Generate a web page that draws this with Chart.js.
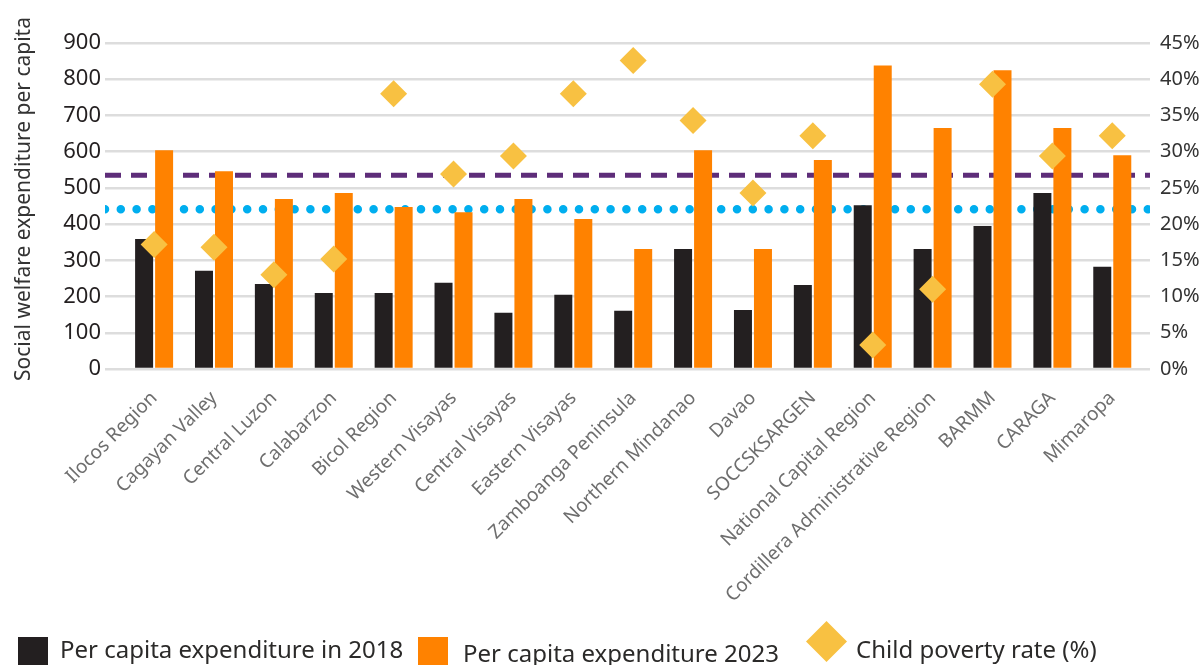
<!DOCTYPE html>
<html lang="en">
<head>
<meta charset="utf-8">
<title>Social welfare expenditure per capita and child poverty by region</title>
<script src="https://cdn.jsdelivr.net/npm/chart.js@4.4.1/dist/chart.umd.min.js"></script>
<style>
  html, body { margin: 0; padding: 0; background: #ffffff; }
  #wrap { position: relative; width: 1204px; height: 665px; overflow: hidden; font-family: "Noto Sans", "Open Sans", sans-serif; }
  #c { position: absolute; left: 0; top: 0; }
  .key { position: absolute; }
  .swatch { width: 30px; height: 30px; }
  .diamond { width: 29px; height: 29px; transform: rotate(45deg); }
  .label { font-size: 24px; line-height: 24px; color: #2b2a29; white-space: nowrap; }
</style>
</head>
<body>
<div id="wrap">
  <canvas id="c" width="1204" height="665"></canvas>
  <div class="key swatch" style="left:18px;top:637px;background:#231f20"></div>
  <div class="key label" style="left:60px;top:637px">Per capita expenditure in 2018</div>
  <div class="key swatch" style="left:418px;top:637px;background:#ff8200"></div>
  <div class="key label" style="left:463px;top:641px">Per capita expenditure 2023</div>
  <div class="key diamond" style="left:812px;top:627px;background:#f8c142"></div>
  <div class="key label" style="left:856px;top:637px">Child poverty rate (%)</div>
</div>
<script>
// Regions in display order
const regions = [
  'Ilocos Region', 'Cagayan Valley', 'Central Luzon', 'Calabarzon', 'Bicol Region',
  'Western Visayas', 'Central Visayas', 'Eastern Visayas', 'Zamboanga Peninsula',
  'Northern Mindanao', 'Davao', 'SOCCSKSARGEN', 'National Capital Region',
  'Cordillera Administrative Region', 'BARMM', 'CARAGA', 'Mimaropa'
];

// Social welfare expenditure per capita
const spend2018 = [359, 271, 235, 210, 210, 238, 155, 205, 161, 331, 163, 232, 452, 331, 395, 486, 282];
const spend2023 = [604, 546, 469, 486, 447, 433, 469, 414, 331, 604, 331, 577, 838, 665, 825, 665, 590];

// Child poverty rate, percent
const childPoverty = [17.2, 16.8, 13.0, 15.2, 38.0, 26.9, 29.4, 38.0, 42.6, 34.3, 24.3, 32.2, 3.3, 11.0, 39.3, 29.4, 32.2];

// Horizontal reference levels (left axis units)
const dashedLevel = 535;
const dottedLevel = 441;

// Axis ticks and title
const spendTicks = [0, 100, 200, 300, 400, 500, 600, 700, 800, 900];
const rateTicks = [0, 5, 10, 15, 20, 25, 30, 35, 40, 45];
const leftTitle = 'Social welfare expenditure per capita';

// Horizontal extent of the plot, in category units
const xFrom = -0.82;
const xTo = 16.63;

const asPoints = values => values.map((v, i) => ({ x: i, y: v }));
const levelLine = v => [{ x: xFrom, y: v }, { x: xTo, y: v }];

const FONT = '"Noto Sans", "Open Sans", sans-serif';

// Left axis title drawn at full width (the built-in title is squeezed to the axis height)
const leftTitlePlugin = {
  id: 'leftTitle',
  afterDraw(chart) {
    const { ctx, chartArea } = chart;
    ctx.save();
    ctx.translate(24, (chartArea.top + chartArea.bottom) / 2 - 7);
    ctx.rotate(-Math.PI / 2);
    ctx.font = '21px ' + FONT;
    ctx.fillStyle = '#333333';
    ctx.textAlign = 'center';
    ctx.textBaseline = 'middle';
    ctx.fillText(leftTitle, 0, 0);
    ctx.restore();
  }
};

new Chart(document.getElementById('c'), {
  type: 'bar',
  plugins: [leftTitlePlugin],
  data: {
    datasets: [
      {
        type: 'line',
        label: 'Child poverty rate (%)',
        data: asPoints(childPoverty),
        yAxisID: 'y1',
        showLine: false,
        pointStyle: 'rectRot',
        pointRadius: 13.5,
        pointHoverRadius: 13.5,
        pointBackgroundColor: '#f8c142',
        pointBorderWidth: 0,
        backgroundColor: '#f8c142',
        borderColor: '#f8c142',
        order: 0
      },
      {
        label: 'Per capita expenditure in 2018',
        data: asPoints(spend2018),
        yAxisID: 'y',
        backgroundColor: '#231f20',
        borderWidth: 0,
        categoryPercentage: 0.668,
        barPercentage: 0.9,
        order: 1
      },
      {
        label: 'Per capita expenditure 2023',
        data: asPoints(spend2023),
        yAxisID: 'y',
        backgroundColor: '#ff8200',
        borderWidth: 0,
        categoryPercentage: 0.668,
        barPercentage: 0.9,
        order: 1
      },
      {
        type: 'line',
        label: 'dashed level',
        data: levelLine(dashedLevel),
        yAxisID: 'y',
        borderColor: '#5e2d79',
        borderWidth: 5,
        borderDash: [16, 10],
        pointRadius: 0,
        fill: false,
        order: 2
      },
      {
        type: 'line',
        label: 'dotted level',
        data: levelLine(dottedLevel),
        yAxisID: 'y',
        borderColor: '#00aeef',
        borderWidth: 8.5,
        borderDash: [0, 15.8],
        borderCapStyle: 'round',
        pointRadius: 0,
        fill: false,
        order: 2
      }
    ]
  },
  options: {
    responsive: false,
    devicePixelRatio: 1,
    animation: false,
    layout: { padding: { top: 43, left: 0, right: 0, bottom: 36 } },
    plugins: {
      legend: { display: false },
      tooltip: { enabled: true }
    },
    scales: {
      x: {
        type: 'linear',
        min: xFrom,
        max: xTo,
        bounds: 'data',
        offset: false,
        grid: { display: false, drawTicks: false },
        border: { display: false },
        afterBuildTicks: s => { s.ticks = regions.map((_, i) => ({ value: i })); },
        afterFit: s => { s.height = 260; },
        ticks: {
          autoSkip: false,
          minRotation: 45,
          maxRotation: 45,
          padding: 18,
          color: '#6e6e6e',
          font: { family: FONT, size: 19 },
          callback: v => regions[v]
        }
      },
      y: {
        position: 'left',
        min: spendTicks[0],
        max: spendTicks[spendTicks.length - 1],
        afterBuildTicks: s => { s.ticks = spendTicks.map(v => ({ value: v })); },
        afterFit: s => { s.width = 105; },
        grid: { color: '#dddddd', lineWidth: 2.5, drawTicks: false },
        border: { display: false },
        ticks: {
          padding: 4,
          color: '#231f20',
          font: { family: FONT, size: 22 }
        },
        title: { display: false }
      },
      y1: {
        position: 'right',
        min: rateTicks[0],
        max: rateTicks[rateTicks.length - 1],
        afterBuildTicks: s => { s.ticks = rateTicks.map(v => ({ value: v })); },
        afterFit: s => { s.width = 54; },
        grid: { display: false, drawTicks: false },
        border: { display: false },
        ticks: {
          padding: 10,
          color: '#333333',
          font: { family: FONT, size: 20 },
          callback: v => v + '%'
        }
      }
    }
  }
});
</script>
</body>
</html>
